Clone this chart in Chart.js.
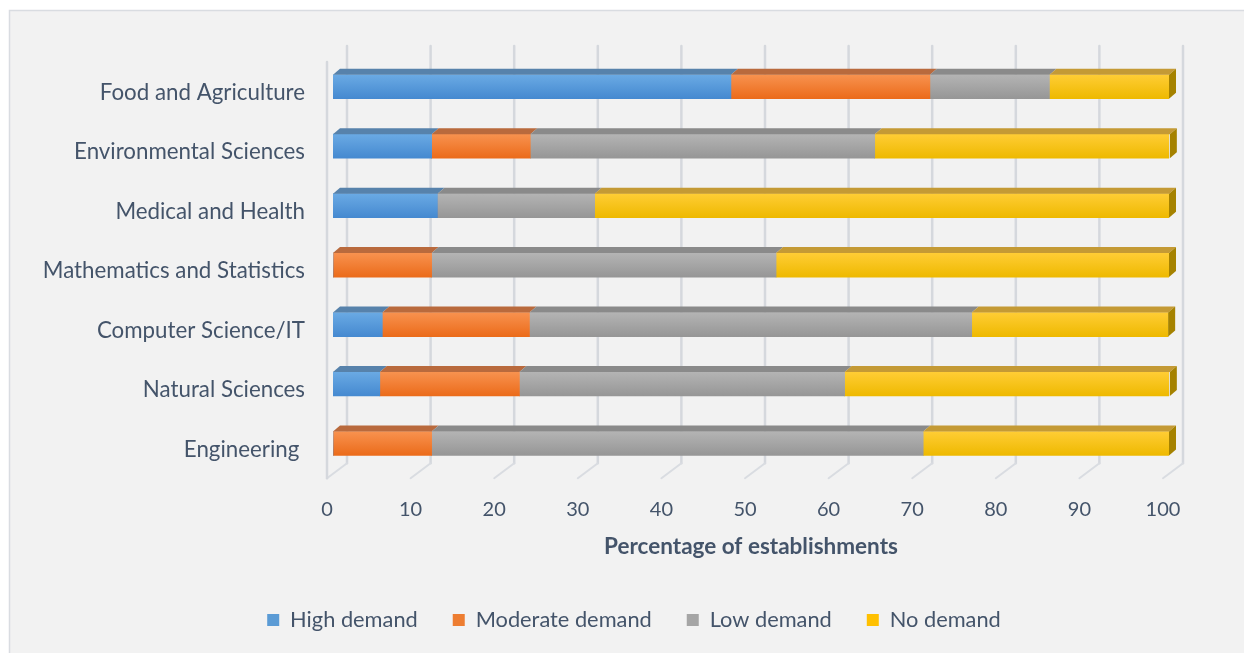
<!DOCTYPE html>
<html>
<head>
<meta charset="utf-8">
<script src="https://cdn.jsdelivr.net/npm/chart.js@4"></script>
<style>
  html, body { margin: 0; padding: 0; background: #ffffff; }
  #wrap { width: 1244px; height: 653px; }
</style>
</head>
<body>
<div id="wrap"><canvas id="c" width="1244" height="653"></canvas></div>
<script>
// ---- data ----
const categories = ["Food and Agriculture", "Environmental Sciences", "Medical and Health",
  "Mathematics and Statistics", "Computer Science/IT", "Natural Sciences", "Engineering "];
const highDemand     = [47.6, 11.8, 12.5, 0,    5.9,  5.6,  0];
const moderateDemand = [23.8, 11.8, 0,    11.8, 17.6, 16.7, 11.8];
const lowDemand      = [14.3, 41.2, 18.8, 41.2, 52.9, 38.9, 58.8];
const noDemand       = [14.3, 35.3, 68.7, 47.0, 23.5, 38.9, 29.4];
const seriesNames = ["High demand", "Moderate demand", "Low demand", "No demand"];
const xTicks = [0, 10, 20, 30, 40, 50, 60, 70, 80, 90, 100];

// ---- styles ----
const TEXT = '#44546a';
const FONT = 'Lato, "Open Sans", sans-serif';
const styles = [
  { top: '#6aaae4', bottom: '#4589d0', lid: '#5782ab', side: '#3d6d9c', legend: '#5b9bd5' },
  { top: '#f8924f', bottom: '#eb6b1a', lid: '#b96a3d', side: '#a8501a', legend: '#ed7d31' },
  { top: '#b4b4b4', bottom: '#969696', lid: '#8a8a8a', side: '#6f6f6f', legend: '#a5a5a5' },
  { top: '#ffcd35', bottom: '#eeb900', lid: '#c49a35', side: '#a58200', legend: '#ffc000' }
];
const DX = 7, DY = 6; // 3D depth of bars

function frontFill(i) {
  return function (ctx) {
    const chart = ctx.chart;
    const ys = chart.scales && chart.scales.y;
    if (!ys || ctx.dataIndex === undefined) return styles[i].legend;
    const cy = ys.getPixelForValue(ctx.dataIndex);
    const g = chart.ctx.createLinearGradient(0, cy - 12, 0, cy + 12);
    g.addColorStop(0, styles[i].top);
    g.addColorStop(1, styles[i].bottom);
    return g;
  };
}

const seriesData = [highDemand, moderateDemand, lowDemand, noDemand];
const datasets = seriesData.map((d, i) => ({
  label: seriesNames[i],
  data: d,
  backgroundColor: frontFill(i),
  borderWidth: 0,
  barThickness: 24,
  borderSkipped: false
}));

// background panel
const panelPlugin = {
  id: 'panel',
  beforeDraw(chart) {
    const c = chart.ctx;
    c.save();
    c.fillStyle = '#ffffff';
    c.fillRect(0, 0, chart.width, chart.height);
    c.fillStyle = '#f2f2f2';
    c.fillRect(9, 10, chart.width - 9, chart.height - 10);
    c.strokeStyle = '#d9dce1';
    c.lineWidth = 1.5;
    c.beginPath();
    c.moveTo(9.5, chart.height);
    c.lineTo(9.5, 10.5);
    c.lineTo(chart.width, 10.5);
    c.stroke();
    c.restore();
  }
};

// 3D walls / grid
const wallPlugin = {
  id: 'walls',
  beforeDatasetsDraw(chart) {
    const c = chart.ctx, xs = chart.scales.x, a = chart.chartArea;
    const backOff = 14, floorOff = -6;
    const backTop = a.top - 11, backBottom = a.bottom - 10, floorFront = a.bottom + 5;
    c.save();
    c.lineCap = 'round';
    xTicks.forEach(v => {
      const xb = xs.getPixelForValue(v) + backOff;
      c.strokeStyle = '#d5d8dd';
      c.lineWidth = 2.5;
      c.beginPath();
      c.moveTo(xb, backTop);
      c.lineTo(xb, backBottom);
      c.stroke();
      const xf = xs.getPixelForValue(v) + floorOff;
      c.strokeStyle = '#d9dce1';
      c.lineWidth = 2;
      c.beginPath();
      c.moveTo(xb, backBottom);
      c.lineTo(xf, floorFront);
      c.stroke();
    });
    const x0f = xs.getPixelForValue(0) + floorOff;
    c.strokeStyle = '#d5d8dd';
    c.lineWidth = 2.5;
    c.beginPath();
    c.moveTo(x0f, a.top + 5);
    c.lineTo(x0f, floorFront);
    c.stroke();
    c.restore();
  },
  afterDatasetsDraw(chart) {
    const c = chart.ctx;
    const n = chart.data.datasets.length;
    c.save();
    for (let di = 0; di < n; di++) {
      const meta = chart.getDatasetMeta(di);
      meta.data.forEach((el, idx) => {
        const p = el.getProps(['x', 'y', 'base', 'height'], true);
        if (Math.abs(p.x - p.base) < 0.5) return;
        const top = p.y - p.height / 2, bot = p.y + p.height / 2;
        const l = Math.min(p.x, p.base), r = Math.max(p.x, p.base);
        c.fillStyle = styles[di].lid;
        c.beginPath();
        c.moveTo(l, top);
        c.lineTo(l + DX, top - DY);
        c.lineTo(r + DX, top - DY);
        c.lineTo(r, top);
        c.closePath();
        c.fill();
        let last = true;
        for (let k = di + 1; k < n; k++) if (chart.data.datasets[k].data[idx] > 0) last = false;
        if (last) {
          c.fillStyle = styles[di].side;
          c.beginPath();
          c.moveTo(r, top);
          c.lineTo(r + DX, top - DY);
          c.lineTo(r + DX, bot - DY);
          c.lineTo(r, bot);
          c.closePath();
          c.fill();
        }
      });
    }
    c.restore();
  }
};

new Chart(document.getElementById('c'), {
  type: 'bar',
  data: { labels: categories, datasets },
  options: {
    indexAxis: 'y',
    responsive: false,
    animation: false,
    devicePixelRatio: 1,
    layout: { padding: { left: 0, right: -24, top: 57, bottom: 12 } },
    scales: {
      x: {
        stacked: true,
        min: 0, max: 100,
        afterBuildTicks(scale) { scale.ticks = xTicks.map(v => ({ value: v })); },
        afterFit(scale) { scale.height = 101; },
        grid: { display: false, drawTicks: false },
        border: { display: false },
        ticks: { color: TEXT, font: { family: FONT, size: 20 }, padding: 24, labelOffset: -6, maxRotation: 0, autoSkip: false },
        title: { display: true, text: 'Percentage of establishments', color: TEXT,
                 font: { family: FONT, size: 22.5, weight: 'bold' }, padding: { top: 0, bottom: 13.5 } }
      },
      y: {
        stacked: true,
        afterFit(scale) { scale.width = 333; },
        grid: { display: false, drawTicks: false },
        border: { display: false },
        ticks: { color: TEXT, font: { family: FONT, size: 22.3 }, padding: 28, labelOffset: 6 }
      },
      yRightSpace: {
        type: 'category',
        position: 'right',
        labels: categories,
        afterFit(scale) { scale.width = 99; },
        grid: { display: false, drawTicks: false },
        border: { display: false },
        ticks: { display: false }
      }
    },
    plugins: {
      legend: {
        position: 'bottom',
        labels: {
          color: TEXT,
          font: { family: FONT, size: 21.8 },
          boxWidth: 12, boxHeight: 12,
          padding: 35,
          generateLabels(chart) {
            return chart.data.datasets.map((ds, i) => ({
              text: ds.label, fillStyle: styles[i].legend, strokeStyle: styles[i].legend,
              lineWidth: 0, fontColor: TEXT, datasetIndex: i, hidden: false
            }));
          }
        }
      },
      tooltip: { enabled: false }
    }
  },
  plugins: [panelPlugin, wallPlugin]
});
</script>
</body>
</html>
